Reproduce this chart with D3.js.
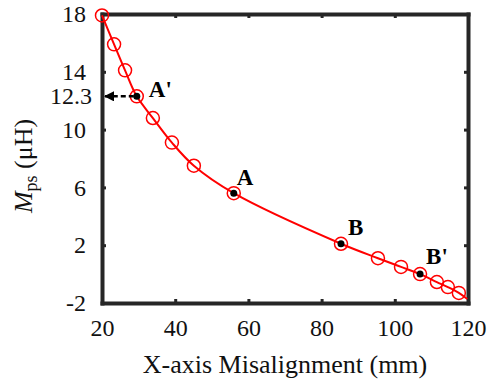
<!DOCTYPE html>
<html>
<head>
<meta charset="utf-8">
<script src="https://cdn.jsdelivr.net/npm/d3@7"></script>
<style>
  body { margin: 0; background: #fff; }
  svg { display: block; }
</style>
</head>
<body>
<div class="svg-container"></div>
<script>
// measured points (markers)
const misalign = [20, 23.3, 26.3, 29.5, 33.9, 39.1, 45.1, 56.0, 85.3, 95.4, 101.7, 106.9, 111.5, 114.5, 117.5];
const mps = [17.9, 15.9, 14.1, 12.3, 10.8, 9.1, 7.5, 5.6, 2.1, 1.1, 0.5, 0.0, -0.55, -0.9, -1.3];
// fitted curve runs on to the right border
const curveX = misalign.concat([119.8]);
const curveY = mps.concat([-1.72]);
// marked operating points
const keyLabels = ["A'", "A", "B", "B'"];
const keyX = [29.5, 56.0, 85.3, 106.9];
const keyY = [12.3, 5.6, 2.1, 0.0];
const xTicks = [20, 40, 60, 80, 100, 120];
const yTicks = [-2, 2, 6, 10, 14, 18];
const markedValue = 12.3;

const width = 494, height = 385;
const margin = {top: 14, bottom: 82, left: 102, right: 26};
const axisColor = "#262626";
const serif = "'Liberation Serif', 'Times New Roman', serif";

const svg = d3.select(".svg-container").append("svg")
  .attr("width", width)
  .attr("height", height)
  .attr("font-family", serif);

const x = d3.scaleLinear().domain([20, 120]).range([margin.left, width - margin.right]);
const y = d3.scaleLinear().domain([-2, 18]).range([height - margin.bottom, margin.top]);

const fmt = d => (d < 0 ? "-" + Math.abs(d) : String(d));

// axes with inward ticks
const gx = svg.append("g")
  .attr("transform", `translate(0,${y(-2)})`)
  .call(d3.axisBottom(x).tickValues(xTicks).tickSize(-4).tickSizeOuter(0).tickPadding(16).tickFormat(fmt));
const gy = svg.append("g")
  .attr("transform", `translate(${x(20)},0)`)
  .call(d3.axisLeft(y).tickValues(yTicks).tickSize(-4).tickSizeOuter(0).tickPadding(16).tickFormat(fmt));
const gTop = svg.append("g")
  .attr("transform", `translate(0,${y(18)})`)
  .call(d3.axisTop(x).tickValues(xTicks).tickSize(-4).tickSizeOuter(0).tickFormat(""));
const gRight = svg.append("g")
  .attr("transform", `translate(${x(120)},0)`)
  .call(d3.axisRight(y).tickValues(yTicks).tickSize(-4).tickSizeOuter(0).tickFormat(""));

[gx, gy, gTop, gRight].forEach(g => {
  g.attr("font-family", serif);
  g.select(".domain").attr("stroke", axisColor).attr("stroke-width", 4).attr("stroke-linecap", "square");
  g.selectAll(".tick line").attr("stroke", axisColor).attr("stroke-width", 3);
  g.selectAll(".tick text").attr("fill", "#111").attr("font-family", serif).style("font-size", "24px");
});

// the read-off value next to the y-axis
svg.append("text")
  .attr("x", x(20) - 10)
  .attr("y", y(markedValue))
  .attr("dy", "0.32em")
  .attr("text-anchor", "end")
  .style("font-size", "24px")
  .attr("fill", "#111")
  .text(markedValue);

// axis titles
svg.append("text")
  .attr("x", (x(20) + x(120)) / 2)
  .attr("y", 373)
  .attr("text-anchor", "middle")
  .style("font-size", "26px")
  .attr("fill", "#111")
  .text("X-axis Misalignment (mm)");

const yt = svg.append("text")
  .attr("transform", "translate(32,166) rotate(-90)")
  .attr("text-anchor", "middle")
  .style("font-size", "26px")
  .attr("fill", "#111");
yt.append("tspan").style("font-style", "italic").text("M");
yt.append("tspan").attr("dy", 5).style("font-size", "18px").text("ps");
yt.append("tspan").attr("dy", -5).text(" (\u03bcH)");

// curve
const line = d3.line()
  .x((d, i) => x(curveX[i]))
  .y((d, i) => y(curveY[i]))
  .curve(d3.curveCatmullRom);

svg.append("path")
  .datum(curveX)
  .attr("d", line)
  .attr("fill", "none")
  .attr("stroke", "#ff0000")
  .attr("stroke-width", 2);

svg.selectAll("circle.m")
  .data(misalign)
  .join("circle")
  .attr("class", "m")
  .attr("cx", d => x(d))
  .attr("cy", (d, i) => y(mps[i]))
  .attr("r", 6.5)
  .attr("fill", "none")
  .attr("stroke", "#ff0000")
  .attr("stroke-width", 1.5);

// dashed arrow from A' to the y-axis
svg.append("defs").append("marker")
  .attr("id", "arr")
  .attr("viewBox", "0 0 10 10")
  .attr("refX", 9).attr("refY", 5)
  .attr("markerWidth", 11).attr("markerHeight", 10)
  .attr("markerUnits", "userSpaceOnUse")
  .attr("orient", "auto")
  .append("path")
  .attr("d", "M0,0 L10,5 L0,10 z")
  .attr("fill", "#000");

svg.append("line")
  .attr("x1", x(keyX[0]) - 3)
  .attr("y1", y(keyY[0]))
  .attr("x2", x(20) + 3)
  .attr("y2", y(keyY[0]))
  .attr("stroke", "#000")
  .attr("stroke-width", 2.5)
  .attr("stroke-dasharray", "5,3")
  .attr("marker-end", "url(#arr)");

svg.selectAll("circle.k")
  .data(keyX)
  .join("circle")
  .attr("class", "k")
  .attr("cx", d => x(d))
  .attr("cy", (d, i) => y(keyY[i]))
  .attr("r", 3.5)
  .attr("fill", "#000");

const labelOffset = [[12, 1], [3, -8], [7, -9], [6, -10]];
svg.selectAll("text.k")
  .data(keyLabels)
  .join("text")
  .attr("class", "k")
  .attr("x", (d, i) => x(keyX[i]) + labelOffset[i][0])
  .attr("y", (d, i) => y(keyY[i]) + labelOffset[i][1])
  .style("font-size", "23px")
  .style("font-weight", "bold")
  .attr("fill", "#000")
  .text(d => d);
</script>
</body>
</html>
